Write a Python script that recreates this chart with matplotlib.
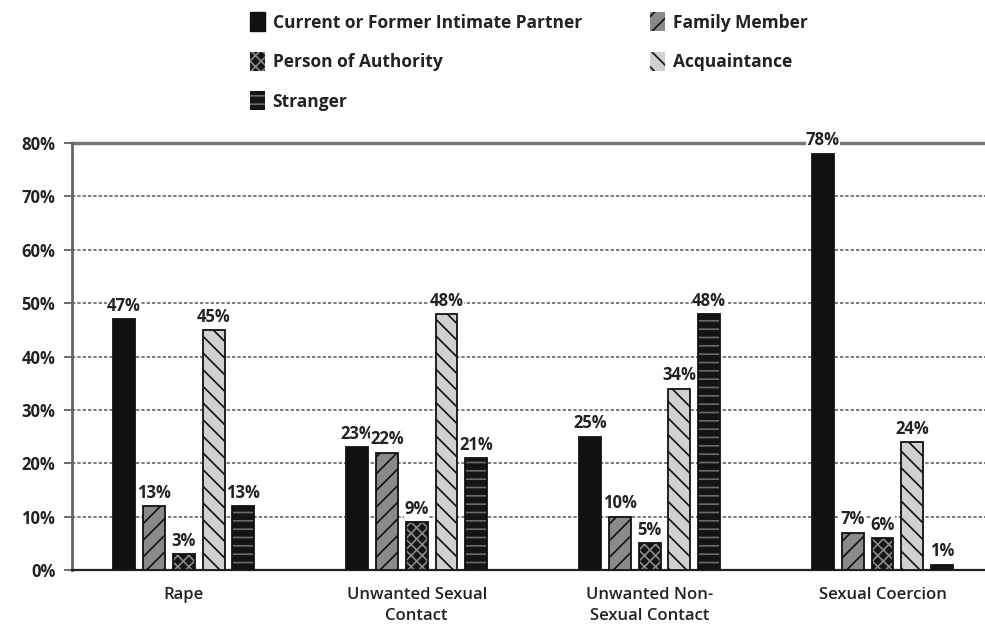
import matplotlib
matplotlib.use("Agg")
import matplotlib.pyplot as plt
from matplotlib.patches import Patch
import numpy as np

plt.rcParams['font.family'] = ['Open Sans', 'DejaVu Sans']
plt.rcParams['hatch.linewidth'] = 1.2

categories = ["Rape", "Unwanted Sexual\nContact", "Unwanted Non-\nSexual Contact", "Sexual Coercion"]
series_names = ["Current or Former Intimate Partner", "Family Member", "Person of Authority",
                "Acquaintance", "Stranger"]
partner = [47, 23, 25, 78]
family = [12, 22, 10, 7]
authority = [3, 9, 5, 6]
acquaintance = [45, 48, 34, 24]
stranger = [12, 21, 48, 1]
partner_labels = ["47%", "23%", "25%", "78%"]
family_labels = ["13%", "22%", "10%", "7%"]
authority_labels = ["3%", "9%", "5%", "6%"]
acquaintance_labels = ["45%", "48%", "34%", "24%"]
stranger_labels = ["13%", "21%", "48%", "1%"]
yticks = [0, 10, 20, 30, 40, 50, 60, 70, 80]
ytick_labels = ["0%", "10%", "20%", "30%", "40%", "50%", "60%", "70%", "80%"]

# styles: (facecolor, hatch, hatchcolor)
styles = [
    ("#111111", None, None),
    ("#8a8a8a", "//", "#111111"),
    ("#151515", "xxx", "#8a8a8a"),
    ("#d0d0d0", "\\\\", "#111111"),
    ("#151515", "--", "#6a6a6a"),
]
data = [partner, family, authority, acquaintance, stranger]
labels = [partner_labels, family_labels, authority_labels, acquaintance_labels, stranger_labels]

fig = plt.figure(figsize=(9.85, 6.3), dpi=100)
ax = fig.add_axes([72/985, 60/630, 1 - 72/985, 427/630])

x = np.arange(len(categories))
pitch = 0.128
width = 0.094
for i, (vals, labs, (fc, hatch, hc)) in enumerate(zip(data, labels, styles)):
    pos = x + (i - 2) * pitch
    if hatch:
        ax.bar(pos, vals, width, color=fc, hatch=hatch, edgecolor=hc, linewidth=0, zorder=3)
    else:
        ax.bar(pos, vals, width, color=fc, linewidth=0, zorder=3)
    ax.bar(pos, vals, width, fill=False, edgecolor="#111111", linewidth=1.3, zorder=4)
    for p, v, t in zip(pos, vals, labs):
        ax.text(p, v + 0.8, t, ha="center", va="bottom", fontsize=12, fontweight="bold",
                color="#222222", zorder=5,
                bbox=dict(facecolor="white", edgecolor="none", pad=0.3))

ax.set_xlim(-0.48, 3.44)
ax.set_ylim(0, 80)
ax.set_yticks(yticks)
ax.set_yticklabels(ytick_labels, fontsize=12, fontweight="bold", color="#222222")
ax.set_xticks(x)
ax.set_xticklabels(categories, fontsize=12, fontweight="semibold", color="#222222",
                   linespacing=1.45)
ax.tick_params(axis="x", length=0, pad=12)
ax.tick_params(axis="y", length=6, width=1.2, color="#555555", pad=6)

for y in yticks[1:-1]:
    ax.axhline(y, color="#666666", lw=1.2, ls=(0, (2, 1.2)), zorder=1)
ax.axhline(80, color="#777777", lw=2.5, zorder=1, clip_on=False)

for s in ["top", "right"]:
    ax.spines[s].set_visible(False)
ax.spines["left"].set_color("#666666")
ax.spines["left"].set_linewidth(2)
ax.spines["bottom"].set_color("#222222")
ax.spines["bottom"].set_linewidth(1.6)


def handle(idx):
    fc, hatch, hc = styles[idx]
    if hatch:
        return Patch(facecolor=fc, hatch=hatch, edgecolor=hc, linewidth=0)
    return Patch(facecolor=fc, edgecolor="#111111")


left_idx = [0, 2, 4]
right_idx = [1, 3]
common = dict(frameon=False, fontsize=12.5, handlelength=0.85, handleheight=1.35,
              handletextpad=0.45, labelspacing=1.15, borderaxespad=0, borderpad=0)
leg1 = fig.legend([handle(i) for i in left_idx], [series_names[i] for i in left_idx],
                  loc="upper left", bbox_to_anchor=(250/985, 1 - 12/630), **common)
leg2 = fig.legend([handle(i) for i in right_idx], [series_names[i] for i in right_idx],
                  loc="upper left", bbox_to_anchor=(650/985, 1 - 12/630), **common)
for leg in (leg1, leg2):
    for t in leg.get_texts():
        t.set_fontweight("bold")
        t.set_color("#222222")

fig.savefig("out.png", dpi=100)
